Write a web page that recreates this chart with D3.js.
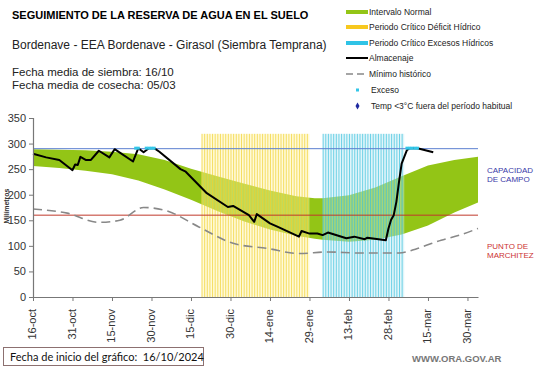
<!DOCTYPE html>
<html><head><meta charset="utf-8">
<script src="https://cdn.jsdelivr.net/npm/d3@7"></script>
<style>body{margin:0;background:#fff}svg{display:block;font-family:"Liberation Sans",Arial,sans-serif}</style>
</head><body>
<svg id="c" width="541" height="368"></svg>
<script>
// ---- data ----
const tickDays = [0,15,30,45,60,75,90,105,120,135,150,165];
const tickLabels = ["16-oct","31-oct","15-nov","30-nov","15-dic","30-dic","14-ene","29-ene","13-feb","28-feb","15-mar","30-mar"];
const yTicks = [0,50,100,150,200,250,300,350];

const bandDays  = [0,10,20,30,40,50,60,70,80,90,100,107,110,120,130,140,150,160,169];
const bandUpper = [289,288,287,284,279,268,251,236,222,208,197,193,193,199,214,236,257,268,274];
const bandLower = [256,252,247,240,228,210,190,168,148,132,120,114,112,108,112,122,140,165,185];

const almDays   = [0,5,10,15,16,17,18,20,22,25,29,31,38,40,42,44,46,48,56,58,66,74,76,82,84,85,90,93,101,102,105,108,110,112,119,122,126,127,134,135,136,137,138,139,140,142,143,146,152];
const almValues = [280,273,268,248,259,258,274,268,268,286,273,289,265,291,283,291,291,284,250,245,203,176,178,160,147,162,144,137,118,129,124,124,121,126,115,118,113,116,111,134,151,160,186,225,261,287,291,291,283];

const minDays   = [0,13,25,33,42,51,63,76,89,101,112,124,139,146,155,162,169];
const minValues = [172,164,146,150,175,168,137,105,95,85,88,86,86,95,111,121,134];

const excesoDays   = [39,40,43,44,45,46,142,143,144,145,146];
const excesoValues = [291,291,291,291,291,291,291,291,291,291,291];

const deficitStart = 64, deficitEnd = 104;
const excesoPerStart = 110, excesoPerEnd = 140;
const periodTop = 319;
const capacidad = 290, marchitez = 160;

// ---- drawing ----
const svg = d3.select("#c");
const x = d3.scaleLinear().domain([0,169]).range([33,478]);
const y = d3.scaleLinear().domain([0,350]).range([297,118]);

// green band
const area = d3.area().x((d,i)=>x(bandDays[i])).y0((d,i)=>y(bandLower[i])).y1((d,i)=>y(bandUpper[i]));
svg.append("path").datum(bandDays).attr("d",area).attr("fill","#93c516");

// period stripes
function stripes(s,e,fill,line){
  const days = d3.range(s,e+1);
  const g = svg.append("g");
  g.selectAll("rect").data(days).join("rect")
    .attr("x",d=>x(d)).attr("width",x(1)-x(0)).attr("y",y(periodTop)).attr("height",y(0)-y(periodTop))
    .attr("fill",fill).attr("opacity",0.45);
  g.selectAll("line").data(days).join("line")
    .attr("x1",d=>x(d)+0.5).attr("x2",d=>x(d)+0.5).attr("y1",y(periodTop)).attr("y2",y(0))
    .attr("stroke",line).attr("stroke-width",1).attr("opacity",0.7);
}
stripes(deficitStart,deficitEnd,"#fff3a8","#f2d230");
stripes(excesoPerStart,excesoPerEnd,"#bde9f3","#3cc3de");

// reference lines
svg.append("line").attr("x1",x(0)).attr("x2",x(169)).attr("y1",y(capacidad)).attr("y2",y(capacidad)).attr("stroke","#5b7fd0").attr("stroke-width",1);
svg.append("line").attr("x1",x(0)).attr("x2",x(169)).attr("y1",y(marchitez)).attr("y2",y(marchitez)).attr("stroke","#c0392b").attr("stroke-width",1);

// min line
const lineMin = d3.line().x((d,i)=>x(minDays[i])).y((d,i)=>y(minValues[i])).curve(d3.curveMonotoneX);
svg.append("path").datum(minDays).attr("d",lineMin).attr("fill","none").attr("stroke","#888").attr("stroke-width",1.6).attr("stroke-dasharray","9,5");

// almacenaje
const lineAlm = d3.line().x((d,i)=>x(almDays[i])).y((d,i)=>y(almValues[i]));
svg.append("path").datum(almDays).attr("d",lineAlm).attr("fill","none").attr("stroke","#000").attr("stroke-width",2).attr("stroke-linejoin","round");

// exceso points
svg.selectAll(".exc").data(excesoDays).join("rect").attr("class","exc")
  .attr("x",(d)=>x(d)-1.5).attr("y",(d,i)=>y(excesoValues[i])-1.5).attr("width",3).attr("height",3).attr("fill","#33c6e8");

// axes
const gy = svg.append("g").attr("transform",`translate(${x(0)},0)`)
  .call(d3.axisLeft(y).tickValues(yTicks).tickSize(4).tickPadding(3));
gy.select(".domain").attr("stroke","#777").attr("stroke-width",1.2);
gy.selectAll(".tick line").attr("stroke","#777");
gy.selectAll("text").attr("font-size",11).attr("fill","#333").attr("font-family","Liberation Sans, Arial");

const gx = svg.append("g").attr("transform",`translate(0,${y(0)})`)
  .call(d3.axisBottom(x).tickValues(tickDays).tickFormat((d,i)=>tickLabels[i]).tickSize(4).tickSizeOuter(0));
gx.select(".domain").attr("stroke","#777").attr("stroke-width",1.2);
gx.selectAll(".tick line").attr("stroke","#777");
gx.selectAll("text").attr("font-size",11).attr("fill","#333").attr("font-family","Liberation Sans, Arial")
  .attr("transform","rotate(-90)").attr("text-anchor","end").attr("dx","-6").attr("dy","0").attr("y",0).attr("x",-6)
  .attr("dominant-baseline","middle");

// y label
svg.append("text").attr("transform","translate(9,206) rotate(-90)").attr("text-anchor","middle")
  .attr("font-size",7).attr("font-weight","bold").attr("fill","#333").text("Milímetros");

// titles
svg.append("text").attr("x",12).attr("y",19).attr("font-size",11).attr("font-weight","bold").attr("fill","#000").text("SEGUIMIENTO DE LA RESERVA DE AGUA  EN EL SUELO");
svg.append("text").attr("x",12).attr("y",49).attr("font-size",12).attr("fill","#222").text("Bordenave - EEA Bordenave - Girasol (Siembra Temprana)");
svg.append("text").attr("x",12).attr("y",76).attr("font-size",11.5).attr("fill","#222").text("Fecha media de siembra: 16/10");
svg.append("text").attr("x",12).attr("y",89).attr("font-size",11.5).attr("fill","#222").text("Fecha media de cosecha: 05/03");

// legend
const lg = svg.append("g").attr("font-size",8.5).attr("fill","#222");
const lx = 346, tx = 369;
const rows = [12,27,43,58,74,90,106];
lg.append("rect").attr("x",lx).attr("y",rows[0]-2).attr("width",22).attr("height",4).attr("fill","#93c516");
lg.append("rect").attr("x",lx).attr("y",rows[1]-2).attr("width",22).attr("height",4).attr("fill","#f7c81e");
lg.append("rect").attr("x",lx).attr("y",rows[2]-2).attr("width",22).attr("height",4).attr("fill","#2fc3e6");
lg.append("line").attr("x1",lx).attr("x2",lx+22).attr("y1",rows[3]).attr("y2",rows[3]).attr("stroke","#000").attr("stroke-width",2);
lg.append("line").attr("x1",lx).attr("x2",lx+22).attr("y1",rows[4]).attr("y2",rows[4]).attr("stroke","#888").attr("stroke-width",1.6).attr("stroke-dasharray","7,4");
lg.append("rect").attr("x",lx+10).attr("y",rows[5]-1.5).attr("width",3).attr("height",3).attr("fill","#33c6e8");
lg.append("path").attr("d",d3.symbol(d3.symbolDiamond,14)()).attr("transform",`translate(${lx+11.5},${rows[6]})`).attr("fill","#1f2aa0");
const ltexts = ["Intervalo Normal","Periodo Crítico Déficit Hídrico","Periodo Crítico Excesos Hídricos","Almacenaje","Mínimo histórico","Exceso","Temp <3°C fuera del período habitual"];
lg.selectAll(".lt").data(ltexts).join("text").attr("class","lt").attr("x",(d,i)=>i>=5?tx+2:tx).attr("y",(d,i)=>rows[i]+3).text(d=>d);

// right labels
svg.append("text").attr("x",487).attr("y",173).attr("font-size",8).attr("fill","#3a3aa8").text("CAPACIDAD");
svg.append("text").attr("x",487).attr("y",182).attr("font-size",8).attr("fill","#3a3aa8").text("DE  CAMPO");
svg.append("text").attr("x",487).attr("y",249).attr("font-size",8).attr("fill","#cc3333").text("PUNTO   DE");
svg.append("text").attr("x",487).attr("y",258).attr("font-size",8).attr("fill","#cc3333").text("MARCHITEZ");

// bottom box
svg.append("rect").attr("x",3.5).attr("y",347.5).attr("width",200).attr("height",18).attr("fill","#fff").attr("stroke","#8c7070");
svg.append("text").attr("x",10).attr("y",361).attr("font-size",11).attr("fill","#111").attr("font-family","Lato, sans-serif").attr("xml:space","preserve").text("Fecha de inicio del gráfico:  16/10/2024");
svg.append("text").attr("x",412).attr("y",362).attr("font-size",9.5).attr("font-weight","bold").attr("fill","#777").text("WWW.ORA.GOV.AR");
</script>
</body></html>
